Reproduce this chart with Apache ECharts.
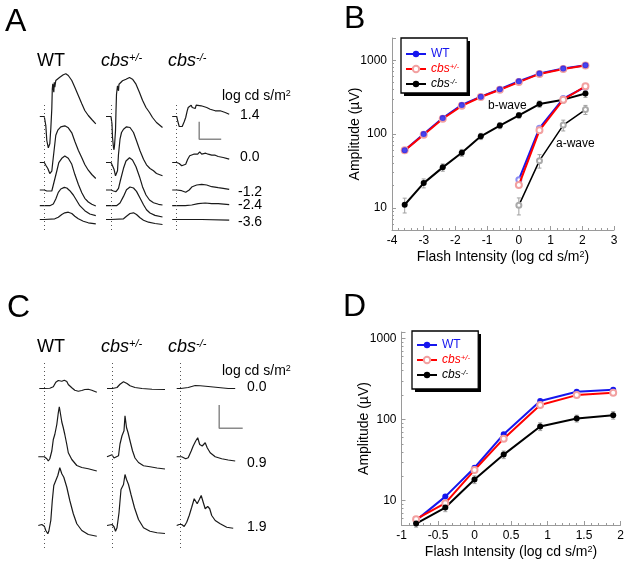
<!DOCTYPE html>
<html>
<head>
<meta charset="utf-8">
<script src="https://cdn.jsdelivr.net/npm/echarts@6/dist/echarts.min.js"></script>
<style>
  html, body { margin: 0; padding: 0; background: #fff; }
  #main { width: 629px; height: 563px; }
</style>
</head>
<body>
<div id="main"></div>
<script>
// ---- B: scotopic ERG amplitudes (uV) vs flash intensity (log cd s/m2)
const intensityB = [-3.6, -3.0, -2.4, -1.8, -1.2, -0.6, 0, 0.65, 1.4, 2.1]
const bWaveWT = [60, 100, 165, 248, 321, 404, 519, 659, 771, 855]
const bWaveHet = [60, 98, 161, 241, 317, 398, 505, 652, 762, 848]
const bWaveKO = [11, 21.6, 35.3, 55.8, 93, 130, 179, 255, 292, 353]
const bWaveKOErr = [2.5, 3, 4, 6, 9, 12, 15, 25, 30, 40]
const intensityAwave = [0, 0.65, 1.4, 2.1]
const aWaveWT = [24, 120, 302, 435]
const aWaveHet = [20.3, 112, 292, 444]
const aWaveKO = [10.8, 43.5, 132, 214]
const aWaveKOErr = [2.8, 9, 22, 30]

// ---- D: photopic b-wave amplitudes (uV)
const intensityD = [-0.8, -0.4, 0, 0.4, 0.9, 1.4, 1.9]
const coneWT = [5.7, 11.2, 25.4, 66, 169, 220, 233]
const coneHet = [5.9, 9.3, 23.8, 58, 151, 200, 214]
const coneKO = [5.2, 8.2, 18.2, 36.9, 82, 103, 113]
const coneKOErr = [0.5, 0.9, 2, 4, 9, 10, 12]

// ---- A: scotopic traces [ms from flash, uV from baseline]
const rowsA = ['1.4', '0.0', '-1.2', '-2.4', '-3.6']
const traceA_WT_14 = [[-9,0],[0,0],[3,-90],[5,-240],[8,-313],[11,-273],[13,-123],[15,77],[16,277],[17,327],[19,243],[20,343],[21,293],[23,360],[25,377],[31,393],[38,417],[43,427],[48,410],[55,360],[61,293],[68,210],[75,127],[81,60],[88,10],[95,-30],[103,-73]]
const traceA_WT_00 = [[-9,0],[0,0],[3,-27],[7,-60],[11,-110],[13,-127],[15,-87],[17,7],[20,140],[23,273],[27,323],[33,357],[41,367],[48,347],[55,297],[61,213],[68,123],[75,47],[81,-20],[88,-77],[95,-120],[103,-160]]
const traceA_WT_m12 = [[-9,0],[0,0],[5,-10],[9,-27],[15,-10],[20,90],[25,190],[29,273],[35,317],[41,340],[48,317],[55,257],[61,157],[68,57],[75,-27],[81,-83],[88,-120],[95,-143],[103,-160]]
const traceA_WT_m24 = [[-9,0],[0,0],[11,0],[18,17],[23,67],[28,133],[33,167],[37,175],[40,183],[42,172],[45,177],[51,150],[58,107],[65,50],[71,0],[81,-50],[91,-83],[103,-100]]
const traceA_WT_m36 = [[-9,0],[0,0],[21,7],[28,23],[35,50],[41,67],[45,70],[48,73],[55,60],[61,33],[68,7],[78,-17],[88,-33],[103,-43]]
const traceA_Het_14 = [[-10,0],[0,0],[2,-77],[3,-210],[5,-310],[6,-333],[7,-293],[9,-143],[10,57],[11,223],[13,307],[15,257],[16,323],[18,340],[23,357],[30,373],[37,390],[43,373],[50,323],[57,240],[63,163],[70,90],[77,40],[83,-10],[91,-60],[103,-110]]
const traceA_Het_00 = [[-10,0],[0,0],[3,-33],[6,-67],[9,-133],[10,-150],[13,-83],[15,83],[18,233],[21,300],[25,333],[31,357],[38,350],[45,300],[51,217],[58,117],[65,33],[71,-23],[78,-60],[85,-83],[91,-110],[103,-133]]
const traceA_Het_m12 = [[-10,0],[0,0],[5,-10],[10,-17],[15,17],[19,100],[25,217],[30,290],[37,323],[43,300],[50,233],[57,133],[63,33],[70,-50],[77,-100],[85,-127],[95,-143],[103,-150]]
const traceA_Het_m24 = [[-10,0],[0,0],[11,0],[18,27],[25,93],[31,160],[38,187],[45,177],[51,143],[58,77],[65,10],[71,-40],[78,-73],[88,-97],[103,-113]]
const traceA_Het_m36 = [[-10,0],[0,0],[25,7],[31,33],[35,50],[38,60],[42,62],[45,67],[51,50],[58,17],[65,-7],[75,-27],[88,-40],[103,-50]]
const traceA_KO_14 = [[-9,0],[0,0],[2,-43],[5,-100],[7,-120],[11,-100],[15,-53],[18,-10],[21,57],[23,90],[26,73],[29,113],[31,90],[34,107],[37,80],[39,113],[43,100],[49,107],[53,90],[60,90],[67,73],[77,57],[87,57],[97,40],[105,23]]
const traceA_KO_00 = [[-9,0],[0,0],[5,-10],[10,-33],[14,-50],[18,-17],[22,33],[26,67],[30,60],[34,83],[38,100],[42,83],[46,107],[50,83],[54,100],[58,93],[63,83],[70,73],[77,73],[83,60],[93,50],[105,33]]
const traceA_KO_m12 = [[-9,0],[0,0],[10,-7],[18,-23],[25,0],[31,33],[40,50],[50,57],[60,50],[70,33],[83,23],[93,17],[105,7]]
const traceA_KO_m24 = [[-9,0],[0,0],[17,0],[30,7],[43,20],[57,27],[70,20],[83,20],[105,10]]
const traceA_KO_m36 = [[-9,0],[0,0],[50,0],[105,-7]]
const scaleBarA = [44, 176] // ms, uV

// ---- C: photopic traces [ms from flash, uV from baseline]
const rowsC = ['0.0', '0.9', '1.9']
const traceC_WT_00 = [[-10,0],[0,0],[11,1],[18,7],[23,25],[28,32],[35,29],[40,33],[45,28],[48,16],[55,3],[61,-7],[68,-11],[75,-8],[81,-4],[88,-3],[95,-7],[105,-15]]
const traceC_WT_09 = [[-12,0],[0,0],[5,-8],[8,-17],[11,-8],[15,23],[18,69],[21,89],[25,129],[28,176],[30,200],[32,176],[35,139],[38,116],[41,89],[45,49],[48,16],[55,-11],[65,-35],[75,-43],[88,-48],[105,-57]]
const traceC_WT_19 = [[-12,0],[-5,4],[0,-3],[3,-20],[7,-33],[9,-23],[13,20],[16,100],[19,160],[23,180],[27,200],[31,231],[35,207],[39,193],[45,153],[51,100],[58,47],[65,7],[75,-20],[88,-36],[105,-43]]
const traceC_Het_00 = [[-11,0],[0,0],[9,4],[15,17],[22,27],[29,20],[35,11],[45,4],[59,0],[79,-3],[105,-4]]
const traceC_Het_09 = [[-11,0],[-1,8],[3,-5],[7,-11],[12,4],[15,51],[19,84],[23,104],[25,164],[28,117],[31,97],[35,64],[40,24],[45,-5],[52,-23],[62,-36],[75,-40],[89,-45],[105,-49]]
const traceC_Het_19 = [[-11,0],[-1,4],[3,-5],[6,-23],[9,-9],[13,51],[17,144],[22,164],[25,204],[28,184],[32,164],[37,124],[44,71],[52,24],[62,-9],[75,-23],[89,-29],[105,-32]]
const traceC_KO_00 = [[-8,0],[0,0],[15,4],[29,12],[39,11],[55,8],[75,4],[95,0],[109,0]]
const traceC_KO_09 = [[-8,0],[2,0],[10,-8],[15,-4],[21,23],[25,43],[30,63],[34,76],[38,49],[43,43],[49,56],[53,36],[59,16],[69,0],[82,-8],[95,-13],[109,-17]]
const traceC_KO_19 = [[-8,0],[-3,4],[2,4],[7,-4],[12,13],[17,40],[22,73],[27,107],[33,87],[37,103],[41,120],[45,93],[49,67],[54,76],[58,67],[62,40],[69,20],[79,7],[92,-7],[105,-11]]
const scaleBarC = [47, 93] // ms, uV

const FONT = '"Liberation Sans", Arial, sans-serif'
const BLUE = '#1616ee'
const RED = '#ff0000'
const PINK = '#f2a0a0'
const AXIS_GRAY = '#9a9a9a'

// vertical stacking of the traces inside each column (uV above grid bottom)
const stackA = [1135, 675, 400, 243, 105]
const stackC = [638, 365, 90]

const zip = (xs, ys) => xs.map((x, i) => [x, ys[i]])

function traceSeries(samples, axis, offset, withMarker) {
  const s = {
    type: 'line',
    xAxisIndex: axis,
    yAxisIndex: axis,
    data: samples.map(p => [p[0], p[1] + offset]),
    symbol: 'none',
    clip: false,
    silent: true,
    lineStyle: { color: '#1a1a1a', width: 1.2 },
    z: 2
  }
  if (withMarker) {
    s.markLine = {
      symbol: 'none',
      silent: true,
      label: { show: false },
      lineStyle: { type: [1, 3], color: '#555', width: 1 },
      data: [{ xAxis: 0 }]
    }
  }
  return s
}

function scaleBar(bar, axis, t0, y0) {
  return {
    type: 'line',
    xAxisIndex: axis,
    yAxisIndex: axis,
    data: [[t0, y0 + bar[1]], [t0, y0], [t0 + bar[0], y0]],
    symbol: 'none',
    clip: false,
    silent: true,
    lineStyle: { color: '#8a8a8a', width: 1.5 }
  }
}

function errorSeries(xs, ys, errs, axis) {
  return {
    type: 'custom',
    xAxisIndex: axis,
    yAxisIndex: axis,
    silent: true,
    z: 1,
    encode: { x: 0, y: [1, 2] },
    data: xs.map((x, i) => [x, ys[i] - errs[i], ys[i] + errs[i]]),
    renderItem(params, api) {
      const lo = api.coord([api.value(0), api.value(1)])
      const hi = api.coord([api.value(0), api.value(2)])
      const st = { stroke: '#a0a0a0', lineWidth: 1 }
      return {
        type: 'group',
        children: [
          { type: 'line', shape: { x1: lo[0], y1: lo[1], x2: hi[0], y2: hi[1] }, style: st },
          { type: 'line', shape: { x1: lo[0] - 2, y1: lo[1], x2: lo[0] + 2, y2: lo[1] }, style: st },
          { type: 'line', shape: { x1: hi[0] - 2, y1: hi[1], x2: hi[0] + 2, y2: hi[1] }, style: st }
        ]
      }
    }
  }
}

function ampSeries(name, xs, ys, axis, kind) {
  const s = {
    name,
    type: 'line',
    xAxisIndex: axis,
    yAxisIndex: axis,
    data: zip(xs, ys),
    symbolSize: 6,
    silent: true,
    z: 2
  }
  if (kind === 'wt') {
    s.symbol = 'circle'
    s.itemStyle = { color: BLUE }
    s.lineStyle = { color: BLUE, width: 2 }
  } else if (kind === 'het') {
    s.symbol = 'emptyCircle'
    s.itemStyle = { color: PINK, borderColor: PINK }
    s.lineStyle = { color: RED, width: 2 }
    s.z = 3
  } else if (kind === 'ko') {
    s.symbol = 'circle'
    s.itemStyle = { color: '#000' }
    s.lineStyle = { color: '#000', width: 2 }
    s.z = 3
  } else if (kind === 'wtA') {
    s.symbol = 'emptyCircle'
    s.symbolSize = 5
    s.itemStyle = { color: '#8c8cf2' }
    s.lineStyle = { color: BLUE, width: 2 }
  } else if (kind === 'koA') {
    s.symbol = 'emptyCircle'
    s.symbolSize = 5
    s.itemStyle = { color: '#aaa' }
    s.lineStyle = { color: '#000', width: 1.5 }
    s.z = 3
  }
  return s
}

function markerSeries(name, xs, ys, axis) {
  return {
    name, type: 'scatter', xAxisIndex: axis, yAxisIndex: axis,
    data: zip(xs, ys), symbol: 'circle', symbolSize: 6,
    itemStyle: { color: BLUE }, silent: true, z: 4
  }
}

const supRich = {
  n: { fontSize: 14, fontFamily: FONT, color: '#000' },
  s: { fontSize: 9, fontFamily: FONT, color: '#000', verticalAlign: 'top', lineHeight: 10 }
}

function ampXAxis(grid, min, max, interval) {
  return {
    gridIndex: grid, type: 'value', min, max, interval,
    axisLine: { show: true, onZero: false, lineStyle: { color: AXIS_GRAY, width: 1 } },
    axisTick: { show: true, inside: true, length: 4, lineStyle: { color: AXIS_GRAY } },
    minorTick: { show: true, splitNumber: 5, length: 2, lineStyle: { color: AXIS_GRAY } },
    splitLine: { show: false },
    axisLabel: { color: '#000', fontSize: 12, fontFamily: FONT, margin: 5 },
    name: '{n|Flash Intensity (log cd s/m}{s|2}{n|)}',
    nameLocation: 'middle',
    nameGap: 20,
    nameMoveOverlap: false,
    nameTextStyle: { rich: supRich }
  }
}

function ampYAxis(grid, max) {
  return {
    gridIndex: grid, type: 'log', logBase: 10, min: 5, max,
    axisLine: { show: true, onZero: false, lineStyle: { color: AXIS_GRAY, width: 1 } },
    axisTick: { show: true, inside: true, length: 4, lineStyle: { color: AXIS_GRAY } },
    minorTick: { show: true, splitNumber: 9, length: 2, lineStyle: { color: AXIS_GRAY } },
    splitLine: { show: false },
    axisLabel: {
      color: '#000', fontSize: 12, fontFamily: FONT, margin: 5,
      showMinLabel: false, showMaxLabel: false,
      formatter: v => String(Math.round(v))
    },
    name: 'Amplitude (\u00b5V)',
    nameLocation: 'middle',
    nameGap: 30,
    nameMoveOverlap: false,
    nameTextStyle: { fontSize: 14, fontFamily: FONT, color: '#000' }
  }
}

function traceAxes(grid, ymax) {
  return {
    x: { gridIndex: grid, type: 'value', min: -40, max: 140, show: false },
    y: { gridIndex: grid, type: 'value', min: 0, max: ymax, show: false }
  }
}

function legendBox(left, top, padding) {
  return {
    orient: 'vertical', left, top,
    padding, itemGap: 3, itemWidth: 20, itemHeight: 8,
    backgroundColor: '#fff', borderColor: '#000', borderWidth: 1.3, borderRadius: 0,
    selectedMode: false,
    data: ['WT', 'cbs+/-', 'cbs-/-'],
    formatter: name => {
      if (name === 'WT') return '{w|WT}'
      if (name === 'cbs+/-') return '{r|cbs}{rs|+/-}'
      return '{k|cbs}{ks|-/-}'
    },
    textStyle: {
      fontSize: 12, fontFamily: FONT,
      rich: {
        w: { color: BLUE, fontSize: 12, fontFamily: FONT },
        r: { color: RED, fontSize: 12, fontStyle: 'italic', fontFamily: FONT },
        rs: { color: RED, fontSize: 8, fontStyle: 'italic', fontFamily: FONT, verticalAlign: 'top', lineHeight: 8 },
        k: { color: '#000', fontSize: 12, fontStyle: 'italic', fontFamily: FONT },
        ks: { color: '#000', fontSize: 8, fontStyle: 'italic', fontFamily: FONT, verticalAlign: 'top', lineHeight: 8 }
      }
    }
  }
}

function text(str, x, y, size, extra) {
  return {
    type: 'text', x, y, silent: true,
    style: Object.assign({ text: str, fontSize: size, fontFamily: FONT, fill: '#000', verticalAlign: 'middle' }, extra || {})
  }
}

// drop shadow under the legend boxes
function shadow(x, y, w, h) {
  return { type: 'rect', z: 3, silent: true, shape: { x, y, width: w, height: h }, style: { fill: '#000' } }
}

const headRich = {
  i: { fontSize: 18, fontStyle: 'italic', fontFamily: FONT, fill: '#000' },
  s: { fontSize: 11, fontStyle: 'italic', fontFamily: FONT, fill: '#000', verticalAlign: 'top', lineHeight: 11 }
}
const unitRich = {
  n: { fontSize: 14, fontFamily: FONT, fill: '#000' },
  s: { fontSize: 9, fontFamily: FONT, fill: '#000', verticalAlign: 'top', lineHeight: 9 }
}

function panelHeaders(yHead, yUnit) {
  return [
    text('WT', 37, yHead, 18),
    text('{i|cbs}{s|+/-}', 101, yHead, 18, { rich: headRich }),
    text('{i|cbs}{s|-/-}', 168, yHead, 18, { rich: headRich }),
    text('{n|log cd s/m}{s|2}', 222, yUnit, 14, { rich: unitRich })
  ]
}

const tA = [traceAxes(2, 1250), traceAxes(3, 1250), traceAxes(4, 1250)]
const tC = [traceAxes(5, 740), traceAxes(6, 740), traceAxes(7, 740)]

const tracesA = [
  [traceA_WT_14, traceA_WT_00, traceA_WT_m12, traceA_WT_m24, traceA_WT_m36],
  [traceA_Het_14, traceA_Het_00, traceA_Het_m12, traceA_Het_m24, traceA_Het_m36],
  [traceA_KO_14, traceA_KO_00, traceA_KO_m12, traceA_KO_m24, traceA_KO_m36]
]
const tracesC = [
  [traceC_WT_00, traceC_WT_09, traceC_WT_19],
  [traceC_Het_00, traceC_Het_09, traceC_Het_19],
  [traceC_KO_00, traceC_KO_09, traceC_KO_19]
]

const series = []
// B
series.push(ampSeries('WT', intensityB, bWaveWT, 0, 'wt'))
series.push(ampSeries('cbs+/-', intensityB, bWaveHet, 0, 'het'))
series.push(ampSeries('cbs-/-', intensityB, bWaveKO, 0, 'ko'))
series.push(ampSeries('WT', intensityAwave, aWaveWT, 0, 'wtA'))
series.push(ampSeries('cbs+/-', intensityAwave, aWaveHet, 0, 'het'))
series.push(ampSeries('cbs-/-', intensityAwave, aWaveKO, 0, 'koA'))
series.push(markerSeries('WT', intensityB, bWaveWT, 0))
series.push(errorSeries(intensityB, bWaveKO, bWaveKOErr, 0))
series.push(errorSeries(intensityAwave, aWaveKO, aWaveKOErr, 0))
// D
series.push(ampSeries('WT', intensityD, coneWT, 1, 'wt'))
series.push(ampSeries('cbs+/-', intensityD, coneHet, 1, 'het'))
series.push(ampSeries('cbs-/-', intensityD, coneKO, 1, 'ko'))
series.push(errorSeries(intensityD, coneKO, coneKOErr, 1))
// A traces
tracesA.forEach((col, c) => col.forEach((tr, r) => series.push(traceSeries(tr, 2 + c, stackA[r], r === 0))))
series.push(scaleBar(scaleBarA, 4, 45, 907))
// C traces
tracesC.forEach((col, c) => col.forEach((tr, r) => series.push(traceSeries(tr, 5 + c, stackC[r], r === 0))))
series.push(scaleBar(scaleBarC, 7, 77, 479))

const graphics = [
  shadow(404, 41, 66, 55),
  shadow(415, 334, 66, 58),
  text('A', 5, 22, 32),
  text('B', 344, 19, 32),
  text('C', 7, 308, 32),
  text('D', 343, 307, 32),
  ...panelHeaders(61, 96),
  ...panelHeaders(347, 371),
  text('b-wave', 488, 106, 12),
  text('a-wave', 556, 144, 12)
]
const rowYA = [115, 157, 192, 205, 222]
rowsA.forEach((lab, i) => graphics.push(text(lab, lab[0] === '-' ? 238 : 240, rowYA[i], 14)))
const rowYC = [387, 463, 527]
rowsC.forEach((lab, i) => graphics.push(text(lab, 247, rowYC[i], 14)))

const chart = echarts.init(document.getElementById('main'), null, { renderer: 'canvas' })
chart.setOption({
  animation: false,
  backgroundColor: '#fff',
  grid: [
    { left: 392, top: 38, width: 222, height: 192 },
    { left: 401.5, top: 332, width: 219, height: 193 },
    { left: 24.3, top: 105, width: 90, height: 125 },
    { left: 91, top: 105, width: 90, height: 125 },
    { left: 156.7, top: 105, width: 90, height: 125 },
    { left: 24.3, top: 363, width: 90, height: 185 },
    { left: 92.5, top: 363, width: 90, height: 185 },
    { left: 160.7, top: 363, width: 90, height: 185 }
  ],
  xAxis: [
    ampXAxis(0, -4, 3, 1),
    ampXAxis(1, -1, 2, 0.5),
    ...tA.map(a => a.x),
    ...tC.map(a => a.x)
  ],
  yAxis: [
    ampYAxis(0, 2000),
    ampYAxis(1, 1200),
    ...tA.map(a => a.y),
    ...tC.map(a => a.y)
  ],
  legend: [legendBox(401, 38, [10, 8, 3, 4]), legendBox(412, 331, [8, 8, 8, 4])],
  graphic: graphics,
  series
})
</script>
</body>
</html>
